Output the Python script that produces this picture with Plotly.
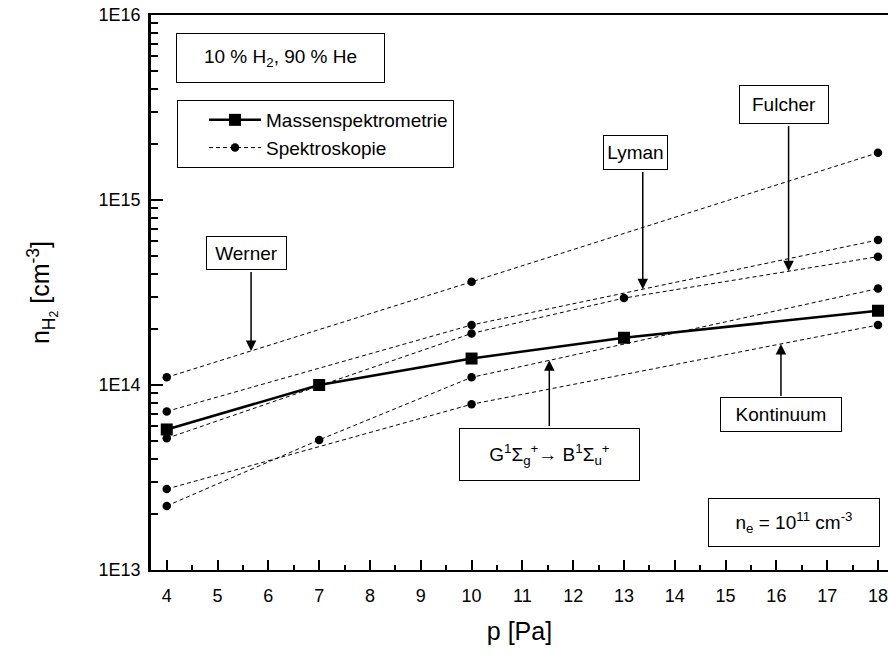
import numpy as np
import plotly.graph_objects as go

# Pressure [Pa] and H2 density [cm^-3]
p_ms = [4, 7, 10, 13, 18]
n_ms = [5.75e13, 1.0e14, 1.39e14, 1.80e14, 2.52e14]

p_werner = [4, 10, 18]
n_werner = [1.10e14, 3.61e14, 1.80e15]

p_lyman = [4, 10, 18]
n_lyman = [7.2e13, 2.11e14, 6.08e14]

p_fulcher = [4, 10, 13, 18]
n_fulcher = [5.15e13, 1.90e14, 2.95e14, 4.94e14]

p_gb = [4, 7, 10, 18]
n_gb = [2.22e13, 5.05e13, 1.10e14, 3.32e14]

p_kont = [4, 10, 18]
n_kont = [2.74e13, 7.87e13, 2.11e14]

y_tickvals = [1e13, 1e14, 1e15, 1e16]
y_ticktext = ["1E13", "1E14", "1E15", "1E16"]
x_tickvals = list(range(4, 19))

FONT = "Arial, Liberation Sans, sans-serif"

# plot area in pixels (left, right, top, bottom) and axis ranges
L, R, T, B = 151, 888, 15, 570
W, H = 888, 657
X_RANGE = [3.69, 18.197]
Y_RANGE = [13, 16]  # log10


def px(x):
    return (x - L) / (R - L)


def py(y):
    return (B - y) / (B - T)


def to_data_x(xpix):
    return X_RANGE[0] + px(xpix) * (X_RANGE[1] - X_RANGE[0])


def to_data_logy(ypix):
    return Y_RANGE[0] + py(ypix) * (Y_RANGE[1] - Y_RANGE[0])


fig = go.Figure()

fig.add_trace(go.Scatter(
    x=p_ms, y=n_ms, mode="lines+markers", name="Massenspektrometrie",
    line=dict(color="black", width=2.5),
    marker=dict(symbol="square", size=12, color="black"),
))

spectro = [(p_werner, n_werner), (p_lyman, n_lyman), (p_fulcher, n_fulcher),
           (p_gb, n_gb), (p_kont, n_kont)]
for i, (xs, ys) in enumerate(spectro):
    fig.add_trace(go.Scatter(
        x=xs, y=ys, mode="lines+markers", name="Spektroskopie",
        legendgroup="spektro", showlegend=(i == 0),
        line=dict(color="black", width=1, dash="4px,3px"),
        marker=dict(symbol="circle", size=8.5, color="black"),
    ))

annotations = []


def box(text, cx, cy, w, h, size=19):
    annotations.append(dict(
        text=text, xref="paper", yref="paper", x=px(cx), y=py(cy),
        xanchor="center", yanchor="middle", showarrow=False,
        width=w, height=h, borderpad=0, bordercolor="black", borderwidth=1,
        bgcolor="white", font=dict(family=FONT, size=size, color="black"),
    ))


def arrow(xs, ys, x_tip, y_tail_px):
    # vertical arrow from a box edge to the dashed line of a series
    y_tip = np.interp(x_tip, xs, np.log10(ys))
    x_pix = L + (x_tip - X_RANGE[0]) / (X_RANGE[1] - X_RANGE[0]) * (R - L)
    annotations.append(dict(
        text=" ", x=x_tip, y=y_tip, xref="x", yref="y",
        ax=to_data_x(x_pix), ay=to_data_logy(y_tail_px), axref="x", ayref="y",
        showarrow=True, arrowhead=2, arrowsize=1.4, arrowwidth=1.5,
        arrowcolor="black", standoff=0, startstandoff=0,
        font=dict(size=1),
    ))


box("10 % H<sub>2</sub>, 90 % He", 280.5, 58, 207, 48)
box("Werner", 246.5, 253, 79, 32)
box("Lyman", 635.5, 152.5, 63, 33)
box("Fulcher", 784, 104.5, 88, 37)
box("Kontinuum", 781, 414.5, 120, 33)
box("G<sup>1</sup>Σ<sub>g</sub><sup>+</sup><b>→</b> B<sup>1</sup>Σ<sub>u</sub><sup>+</sup>",
    549.5, 454, 179, 51)
box("n<sub>e</sub> = 10<sup>11</sup> cm<sup>-3</sup>", 794, 522.5, 170, 47)

arrow(p_werner, n_werner, 5.66, 270)
arrow(p_lyman, n_lyman, 13.37, 170)
arrow(p_fulcher, n_fulcher, 16.24, 124)
arrow(p_gb, n_gb, 11.53, 428)
arrow(p_kont, n_kont, 16.09, 398)

minor_y = [m * 10.0 ** e for e in range(13, 16) for m in range(2, 10)]

fig.update_layout(
    width=W, height=H,
    margin=dict(l=L, r=W - R, t=T, b=H - B),
    paper_bgcolor="white", plot_bgcolor="white",
    font=dict(family=FONT, size=18, color="black"),
    annotations=annotations,
    legend=dict(
        x=px(177), y=py(100), xanchor="left", yanchor="top",
        bordercolor="black", borderwidth=1, bgcolor="white",
        font=dict(family=FONT, size=19, color="black"),
        itemwidth=52, indentation=26, tracegroupgap=0,
    ),
    xaxis=dict(
        range=X_RANGE, tickvals=x_tickvals,
        ticks="inside", ticklen=10, tickwidth=1.5, tickcolor="black",
        showline=True, linecolor="black", linewidth=2, mirror=True,
        showgrid=False, zeroline=False,
        minor=dict(dtick=0.5, tick0=0, ticks="inside", ticklen=5, tickwidth=1.5,
                   tickcolor="black", showgrid=False),
        tickfont=dict(size=18), ticklabelstandoff=8, ticklabeloverflow="allow",
        title=dict(text="p [Pa]", font=dict(size=25), standoff=18),
    ),
    yaxis=dict(
        type="log", range=Y_RANGE, tickvals=y_tickvals, ticktext=y_ticktext,
        ticks="inside", ticklen=12, tickwidth=1.5, tickcolor="black",
        showline=True, linecolor="black", linewidth=2.5, mirror=False,
        showgrid=False, zeroline=False,
        minor=dict(tickvals=minor_y, ticks="inside", ticklen=7, tickwidth=1.5,
                   tickcolor="black", showgrid=False),
        tickfont=dict(size=18), ticklabelstandoff=4,
        title=dict(text="n<sub>H<sub>2</sub></sub> [cm<sup>-3</sup>]",
                   font=dict(size=25), standoff=42),
    ),
)

fig.write_html("out.html")
